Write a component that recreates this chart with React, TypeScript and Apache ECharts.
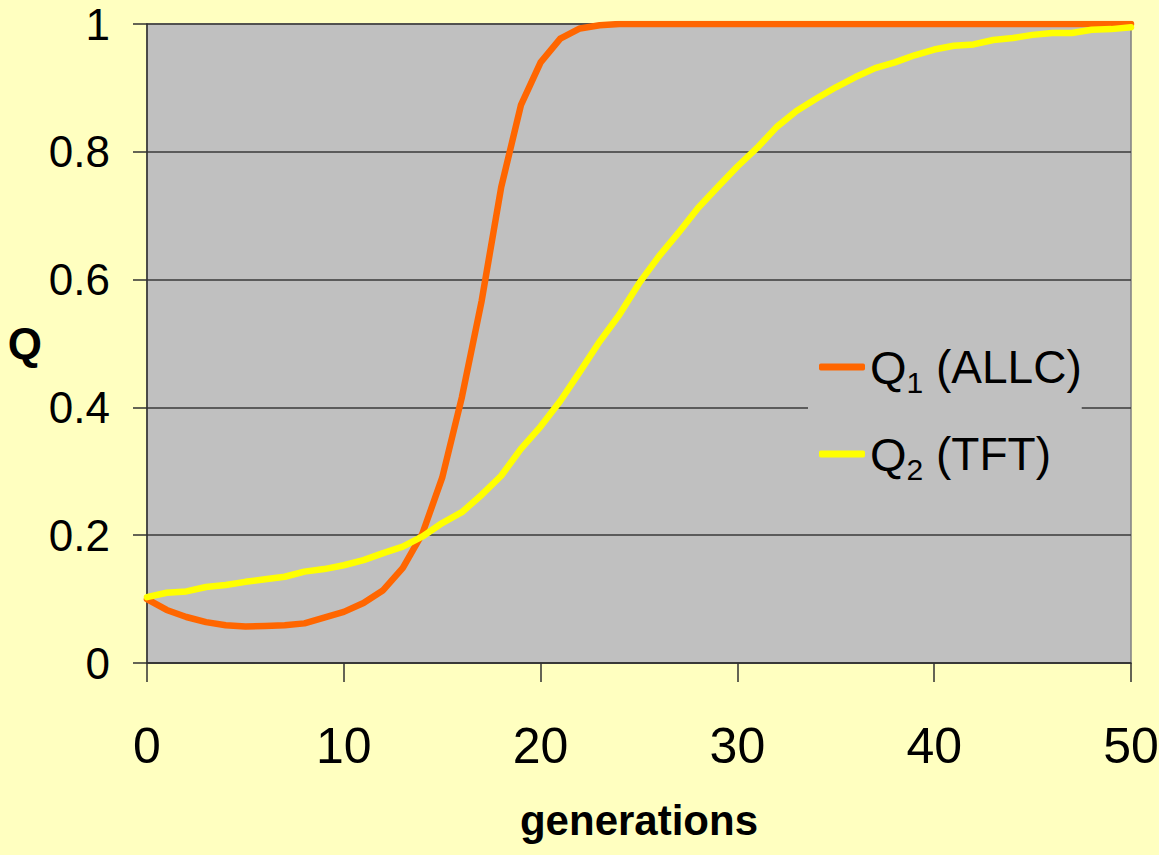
import React, { useEffect, useRef } from "react";
import * as echarts from "echarts";

const generations: number[] = Array.from({ length: 51 }, (_, i) => i);

const q1Allc: number[] = [
  0.100, 0.083, 0.072, 0.064, 0.059, 0.057, 0.058, 0.059, 0.062, 0.071,
  0.080, 0.094, 0.114, 0.149, 0.203, 0.290, 0.416, 0.566, 0.745, 0.873,
  0.940, 0.977, 0.993, 0.998, 1, 1, 1, 1, 1, 1,
  1, 1, 1, 1, 1, 1, 1, 1, 1, 1,
  1, 1, 1, 1, 1, 1, 1, 1, 1, 1,
  1,
];

const q2Tft: number[] = [
  0.103, 0.110, 0.112, 0.119, 0.122, 0.127, 0.131, 0.135, 0.143, 0.147,
  0.153, 0.161, 0.172, 0.182, 0.198, 0.219, 0.236, 0.263, 0.293, 0.335,
  0.370, 0.410, 0.456, 0.503, 0.545, 0.594, 0.636, 0.673, 0.712, 0.745,
  0.777, 0.806, 0.839, 0.864, 0.883, 0.901, 0.917, 0.931, 0.940, 0.951,
  0.960, 0.966, 0.968, 0.975, 0.978, 0.983, 0.986, 0.986, 0.991, 0.992,
  0.995,
];

const seriesNames = ["Q1 (ALLC)", "Q2 (TFT)"];
const xAxisName = "generations";
const yAxisName = "Q";

const SANS = "'Liberation Sans', Arial, sans-serif";

export default function App() {
  const ref = useRef<HTMLDivElement>(null);
  useEffect(() => {
    if (!ref.current) return;
    const chart = echarts.init(ref.current, undefined, { renderer: "svg" });
    const pair = (ys: number[]) => generations.map((g, i) => [g, ys[i]]);
    chart.setOption({
      animation: false,
      backgroundColor: "#FFFFC0",
      grid: {
        left: 147,
        right: 28,
        top: 24,
        bottom: 192,
        containLabel: false,
        outerBoundsMode: "none",
        show: true,
        backgroundColor: "#C0C0C0",
        borderColor: "#808080",
        borderWidth: 1.5,
      },
      legend: {
        orient: "vertical",
        left: 808,
        top: 325,
        backgroundColor: "#C0C0C0",
        padding: [12, 0, 12, 11],
        itemGap: 27,
        itemWidth: 46,
        itemHeight: 7,
        icon: "roundRect",
        data: seriesNames,
        formatter: (name: string) => {
          const m = name.match(/^Q(\d) (.*)$/);
          if (!m) return name;
          return `{q|Q}{s|${m[1]}}{t| ${m[2]}}`;
        },
        textStyle: {
          color: "#000",
          fontFamily: SANS,
          fontSize: 46,
          rich: {
            q: { fontFamily: SANS, fontSize: 47, lineHeight: 50, color: "#000" },
            s: { fontFamily: SANS, fontSize: 30, lineHeight: 50, color: "#000", padding: [30, 0, 0, 0] },
            t: { fontFamily: SANS, fontSize: 46, lineHeight: 50, color: "#000" },
          },
        },
      },
      xAxis: {
        type: "value",
        min: 0,
        max: 50,
        interval: 10,
        name: xAxisName,
        nameLocation: "middle",
        nameGap: 157,
        nameTextStyle: {
          fontFamily: SANS,
          fontWeight: "bold",
          fontSize: 42,
          color: "#000",
          verticalAlign: "middle",
        },
        axisLine: { show: true, lineStyle: { color: "#303030", width: 1.5 } },
        axisTick: { show: true, inside: false, length: 19, lineStyle: { color: "#303030", width: 1.5 } },
        axisLabel: { fontFamily: SANS, fontSize: 50, color: "#000", margin: 58 },
        splitLine: { show: false },
      },
      yAxis: {
        type: "value",
        min: 0,
        max: 1,
        interval: 0.2,
        name: yAxisName,
        nameLocation: "middle",
        nameRotate: 0,
        nameGap: 105,
        nameTextStyle: {
          fontFamily: SANS,
          fontWeight: "bold",
          fontSize: 44,
          color: "#000",
        },
        axisLine: { show: true, lineStyle: { color: "#303030", width: 1.5 } },
        axisTick: { show: true, inside: false, length: 14, lineStyle: { color: "#303030", width: 1.5 } },
        axisLabel: { fontFamily: SANS, fontSize: 44, color: "#000", margin: 37 },
        splitLine: { show: true, lineStyle: { color: "#3a3a3a", width: 1.5 } },
      },
      series: [
        {
          name: seriesNames[0],
          type: "line",
          data: pair(q1Allc),
          showSymbol: false,
          symbol: "none",
          lineStyle: { color: "#FF6600", width: 6.5, cap: "round", join: "round" },
          itemStyle: { color: "#FF6600" },
          z: 2,
        },
        {
          name: seriesNames[1],
          type: "line",
          data: pair(q2Tft),
          showSymbol: false,
          symbol: "none",
          lineStyle: { color: "#FFFF00", width: 6.5, cap: "round", join: "round" },
          itemStyle: { color: "#FFFF00" },
          z: 3,
        },
      ],
    });
    return () => chart.dispose();
  }, []);
  return (
    <div
      ref={ref}
      style={{ position: "fixed", left: 0, top: 0, width: 1159, height: 855 }}
    />
  );
}
